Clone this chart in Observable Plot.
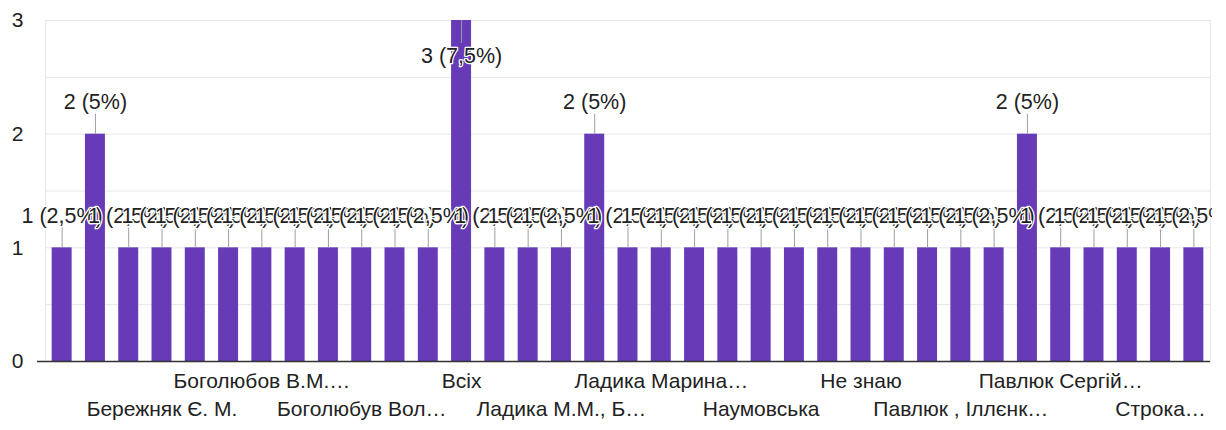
<!DOCTYPE html>
<html><head><meta charset="utf-8">
<script src="https://cdn.jsdelivr.net/npm/d3@7"></script>
<script src="https://cdn.jsdelivr.net/npm/@observablehq/plot@0.6"></script>
<style>
html,body{margin:0;padding:0;background:#fff;}
#chart{width:1226px;height:430px;overflow:hidden;}
#chart svg{display:block;}
</style></head><body><div id="chart"></div>
<script>
// 35 answers (only every third name is legible on the reference axis)
const categories = [
  "Відповідь 1","Відповідь 2","Відповідь 3","Бережняк Є. М.",
  "Відповідь 5","Відповідь 6","Боголюбов В.М.",
  "Відповідь 8","Відповідь 9","Боголюбув Вол",
  "Відповідь 11","Відповідь 12","Всіх",
  "Відповідь 14","Відповідь 15","Ладика М.М., Б",
  "Відповідь 17","Відповідь 18","Ладика Марина",
  "Відповідь 20","Відповідь 21","Наумовська",
  "Відповідь 23","Відповідь 24","Не знаю",
  "Відповідь 26","Відповідь 27","Павлюк , Іллєнк",
  "Відповідь 29","Відповідь 30","Павлюк Сергій",
  "Відповідь 32","Відповідь 33","Строка",
  "Відповідь 35"
];
const counts = [1,2,1,1,1,1,1,1,1,1,1,1,3,1,1,1,2,1,1,1,1,1,1,1,1,1,1,1,1,2,1,1,1,1,1];
const tickIndex = [3,6,9,12,15,18,21,24,27,30,33];
const tickLabels = ["Бережняк Є. М.","Боголюбов В.М.…","Боголюбув Вол…","Всіх","Ладика М.М., Б…","Ладика Марина…","Наумовська","Не знаю","Павлюк , Іллєнк…","Павлюк Сергій…","Строка…"];
const yTicks = [0,1,2,3];
const gridValues = [0.5,1,1.5,2,2.5,3];

const total = d3.sum(counts);
const fmtPct = v => (Math.round(v / total * 1000) / 10).toString().replace(".", ",") + "%";
const data = categories.map((c, i) => ({cat: c, count: counts[i], label: `${counts[i]} (${fmtPct(counts[i])})`}));
const maxCount = d3.max(counts);
const normal = data.filter(d => d.count < maxCount);
const tallest = data.filter(d => d.count === maxCount);
const ticks = tickIndex.map((i, k) => ({cat: categories[i], label: tickLabels[k], row: k % 2 === 0 ? 2 : 1}));

const purple = "#673ab7";
const ink = "#222222";
const font = "'Liberation Sans', Arial, sans-serif";

const chart = Plot.plot({
  width: 1212,
  height: 430,
  marginLeft: 45,
  marginRight: 2,
  marginTop: 20,
  marginBottom: 69,
  style: {fontFamily: font, fontSize: "21px", color: ink, background: "#fff", overflow: "hidden"},
  x: {type: "band", domain: categories, paddingInner: 0.4, paddingOuter: 0.2, round: false, axis: null},
  y: {domain: [0, 3], ticks: yTicks, tickSize: 0, tickPadding: 22, tickFormat: d => d, label: null},
  marks: [
    Plot.ruleY(gridValues, {stroke: "#e6e6e6", strokeWidth: 1}),
    Plot.frame({stroke: "#e8e8e8", strokeWidth: 1}),
    Plot.barY(data, {x: "cat", y: "count", fill: purple}),
    Plot.ruleY([0], {stroke: "#333", strokeWidth: 1.5, insetLeft: -8}),
    // leader lines
    Plot.ruleX(normal, {x: "cat", y1: "count", y2: "count", insetTop: -20, stroke: "#9e9e9e", strokeWidth: 1}),
    Plot.ruleX(tallest, {x: "cat", y1: "count", y2: "count", insetBottom: -23, stroke: "#9e9e9e", strokeWidth: 1}),
    // value labels
    Plot.text(data, {x: "cat", y: "count", text: "label", filter: d => d.count < maxCount, lineAnchor: "bottom", dy: -25, fill: ink, stroke: "white", strokeWidth: 2.5, fontSize: 21.5}),
    Plot.text(tallest, {x: "cat", y: "count", text: "label", lineAnchor: "bottom", dy: 42, fill: ink, stroke: "white", strokeWidth: 2.5, fontSize: 21.5}),
    // staggered category labels
    Plot.text(ticks.filter(d => d.row === 1), {x: "cat", text: "label", frameAnchor: "bottom", dy: 26, fill: ink, fontSize: 21}),
    Plot.text(ticks.filter(d => d.row === 2), {x: "cat", text: "label", frameAnchor: "bottom", dy: 54, fill: ink, fontSize: 21})
  ]
});
document.getElementById("chart").appendChild(chart);
</script>
</body></html>
